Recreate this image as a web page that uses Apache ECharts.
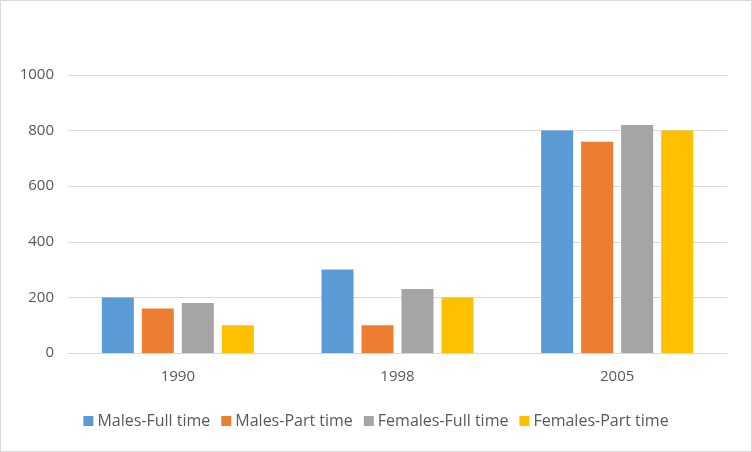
<!DOCTYPE html>
<html>
	<head>
		<meta charset="utf-8" />
		<title>chart</title>
		<style>
			html, body { margin: 0; padding: 0; background: #fff; }
			.box { width: 752px; height: 452px; box-sizing: border-box; border: 1px solid #d9d9d9; }
			#chart { width: 750px; height: 450px; }
		</style>
	</head>
	<body>
		<div class="box"><div id="chart"></div></div>
		<script src="https://cdn.jsdelivr.net/npm/echarts@6/dist/echarts.min.js" type="text/javascript" charset="utf-8"></script>
		<script type="text/javascript">
			var years = ['1990', '1998', '2005'];
			var seriesNames = ['Males-Full time', 'Males-Part time', 'Females-Full time', 'Females-Part time'];
			var malesFull = [200, 300, 800];
			var malesPart = [160, 100, 760];
			var femalesFull = [180, 230, 820];
			var femalesPart = [100, 200, 800];
			var colors = ['#5b9bd5', '#ed7d31', '#a5a5a5', '#ffc000'];

			var values = [malesFull, malesPart, femalesFull, femalesPart];
			var series = [];
			for (var i = 0; i < seriesNames.length; i++) {
				series.push({
					name: seriesNames[i],
					type: 'bar',
					data: values[i],
					barWidth: 32,
					barGap: '25%',
					itemStyle: { color: colors[i] }
				});
			}

			var myChart = echarts.init(document.getElementById('chart'));
			myChart.setOption({
				animation: false,
				color: colors,
				textStyle: { fontFamily: 'Open Sans' },
				grid: { left: 67, right: 24, top: 74, bottom: 98 },
				legend: {
					bottom: 17,
					left: 'center',
					itemWidth: 10,
					itemHeight: 10,
					itemGap: 11,
					icon: 'rect',
					textStyle: { color: '#595959', fontSize: 16, fontFamily: 'Open Sans', padding: [0, 0, 0, -1] }
				},
				xAxis: {
					type: 'category',
					data: years,
					axisTick: { show: false },
					axisLine: { lineStyle: { color: '#d9d9d9', width: 1 } },
					axisLabel: { color: '#595959', fontSize: 15, margin: 16 }
				},
				yAxis: {
					type: 'value',
					min: 0,
					max: 1000,
					interval: 200,
					axisLine: { show: false },
					axisTick: { show: false },
					splitLine: { lineStyle: { color: '#d9d9d9', width: 1 } },
					axisLabel: { color: '#595959', fontSize: 15, margin: 14, formatter: function (v) { return String(v); } }
				},
				series: series
			});
		</script>
	</body>
</html>
